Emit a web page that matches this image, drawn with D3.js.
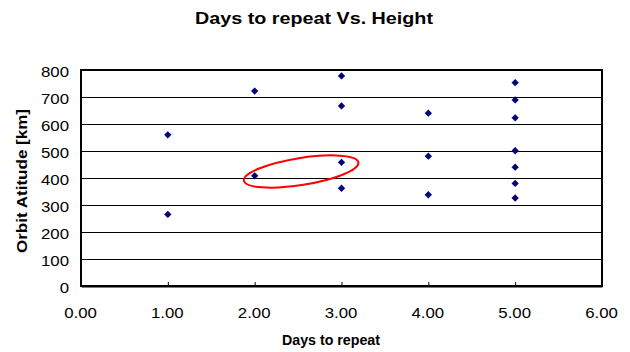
<!DOCTYPE html>
<html>
<head>
<meta charset="utf-8">
<script src="https://cdn.jsdelivr.net/npm/d3@7"></script>
<style>
  body { margin: 0; background: #fff; }
  text { font-family: "Liberation Sans", Arial, sans-serif; fill: #000; }
</style>
</head>
<body>
<svg id="chart" width="630" height="352"></svg>
<script>
// Repeat cycle (days) and orbit altitude (km) for each candidate orbit
const days     = [1, 1, 2, 2, 3, 3, 3, 3, 4, 4, 4, 5, 5, 5, 5, 5, 5, 5];
const altitude = [560, 265, 722, 408, 778, 667, 458, 362, 640, 481, 338, 753, 689, 623, 501, 440, 380, 326];

const xTicks = [0, 1, 2, 3, 4, 5, 6];
const yTicks = [0, 100, 200, 300, 400, 500, 600, 700, 800];

// Highlighted region (centre in data units)
const highlight = { days: 2.535, altitude: 424 };

const svg = d3.select("#chart");
const m = { left: 81, right: 28, top: 70, bottom: 66 };
const W = 630, H = 352;
const FONT = "Liberation Sans, Arial, sans-serif";

const x = d3.scaleLinear().domain([0, 6]).range([m.left, W - m.right]);
const y = d3.scaleLinear().domain([0, 800]).range([H - m.bottom, m.top]);

// Widen text slightly, like the wide Arial rendering of the original
function stretch(sel, factor) {
  sel.each(function () {
    const len = this.getComputedTextLength();
    d3.select(this).attr("textLength", len * factor).attr("lengthAdjust", "spacingAndGlyphs");
  });
}

// Horizontal gridlines
svg.append("g")
  .selectAll("line")
  .data(yTicks)
  .join("line")
  .attr("x1", x(0)).attr("x2", x(6))
  .attr("y1", d => y(d)).attr("y2", d => y(d))
  .attr("stroke", "#000").attr("stroke-width", 1)
  .attr("shape-rendering", "crispEdges");

// Plot frame
svg.append("rect")
  .attr("x", x(0)).attr("y", y(800))
  .attr("width", x(6) - x(0)).attr("height", y(0) - y(800))
  .attr("fill", "none").attr("stroke", "#000").attr("stroke-width", 2);

// X axis: short ticks pointing into the plot
const xAxis = d3.axisBottom(x)
  .tickValues(xTicks)
  .tickFormat(d3.format(".2f"))
  .tickSizeInner(-4).tickSizeOuter(0).tickPadding(21);
const gx = svg.append("g").attr("transform", `translate(0,${y(0)})`).call(xAxis);
gx.select(".domain").attr("stroke", "#000").attr("stroke-width", 2);
gx.selectAll(".tick line").attr("stroke", "#000");
gx.selectAll(".tick text").attr("font-size", 15).attr("font-family", FONT).attr("dx", -1).call(stretch, 1.12);

// Y axis labels
const yAxis = d3.axisLeft(y).tickValues(yTicks).tickSize(0).tickPadding(12);
const gy = svg.append("g").attr("transform", `translate(${x(0)},0)`).call(yAxis);
gy.select(".domain").remove();
gy.selectAll(".tick text").attr("font-size", 15).attr("font-family", FONT).attr("dy", "0.45em").call(stretch, 1.12);

// Diamond markers
const diamond = d3.symbol().type(d3.symbolDiamond2).size(34);
svg.append("g")
  .selectAll("path")
  .data(days.map((d, i) => ({ d, a: altitude[i] })))
  .join("path")
  .attr("d", diamond)
  .attr("transform", p => `translate(${x(p.d)},${y(p.a)})`)
  .attr("fill", "#000080");

// Red ellipse around the highlighted points
svg.append("ellipse")
  .attr("cx", 0).attr("cy", 0)
  .attr("rx", 58).attr("ry", 13.5)
  .attr("transform", `translate(${x(highlight.days)},${y(highlight.altitude)}) rotate(-9)`)
  .attr("fill", "none").attr("stroke", "#ff0000").attr("stroke-width", 2);

// Titles
svg.append("text")
  .attr("x", 314).attr("y", 24)
  .attr("text-anchor", "middle")
  .attr("font-size", 17).attr("font-weight", "bold")
  .attr("textLength", 238).attr("lengthAdjust", "spacingAndGlyphs")
  .text("Days to repeat Vs. Height");

svg.append("text")
  .attr("x", 331).attr("y", 345)
  .attr("text-anchor", "middle")
  .attr("font-size", 14).attr("font-weight", "bold")
  .attr("textLength", 98).attr("lengthAdjust", "spacingAndGlyphs")
  .text("Days to repeat");

svg.append("text")
  .attr("transform", `translate(27,181) rotate(-90)`)
  .attr("text-anchor", "middle")
  .attr("font-size", 15.5).attr("font-weight", "bold")
  .attr("textLength", 144).attr("lengthAdjust", "spacingAndGlyphs")
  .text("Orbit Atitude [km]");
</script>
</body>
</html>
